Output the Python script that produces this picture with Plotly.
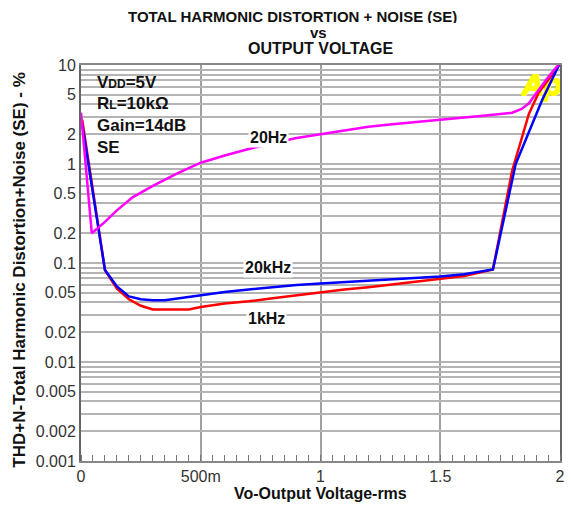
import plotly.graph_objects as go

# ---------------- data ----------------
x_20hz = [0.0, 0.045, 0.1, 0.15, 0.215, 0.3, 0.4, 0.5, 0.6, 0.7, 0.8, 0.9, 1.0,
          1.1, 1.2, 1.3, 1.4, 1.5, 1.6, 1.7, 1.8, 1.84, 1.87, 1.9, 1.95, 2.0]
y_20hz = [3.3, 0.2, 0.26, 0.34, 0.46, 0.6, 0.8, 1.03, 1.22, 1.42, 1.62, 1.83, 2.0,
          2.2, 2.38, 2.52, 2.65, 2.8, 2.95, 3.1, 3.3, 3.6, 4.1, 5.2, 7.5, 10.5]

x_1khz = [0.005, 0.1, 0.15, 0.2, 0.25, 0.3, 0.45, 0.5, 0.6, 0.7, 0.8, 0.9, 1.0,
          1.1, 1.2, 1.3, 1.4, 1.5, 1.6, 1.72, 1.8, 1.87, 1.91, 1.99, 2.0]
y_1khz = [2.8, 0.085, 0.055, 0.043, 0.037, 0.034, 0.034, 0.036, 0.039, 0.041, 0.044, 0.047, 0.051,
          0.054, 0.057, 0.061, 0.065, 0.069, 0.074, 0.086, 0.85, 3.2, 5.2, 9.5, 10.5]

x_20khz = [0.005, 0.1, 0.15, 0.2, 0.25, 0.3, 0.35, 0.5, 0.6, 0.7, 0.8, 0.9, 1.0,
           1.1, 1.2, 1.3, 1.4, 1.5, 1.6, 1.72, 1.815, 1.925, 2.0]
y_20khz = [2.5, 0.085, 0.058, 0.046, 0.043, 0.042, 0.042, 0.047, 0.051, 0.054, 0.057, 0.060, 0.062,
           0.064, 0.066, 0.068, 0.070, 0.073, 0.077, 0.086, 1.0, 4.4, 10.5]

x_tickvals = [0, 0.5, 1, 1.5, 2]
x_ticktext = ["0", "500m", "1", "1.5", "2"]
y_labeled = [10, 5, 2, 1, 0.5, 0.2, 0.1, 0.05, 0.02, 0.01, 0.005, 0.002, 0.001]
y_labels = ["10", "5", "2", "1", "0.5", "0.2", "0.1", "0.05", "0.02", "0.01", "0.005", "0.002", "0.001"]

# ---------------- layout geometry ----------------
W, H = 573, 515
L, R, T, B = 81, 565, 65, 461
PW, PH = R - L, B - T


def px(xp):
    return (xp - L) / PW


def py(yp):
    return (B - yp) / PH


FONT = "Liberation Sans, Arial, sans-serif"

# grid at every 1..9 multiple per decade, labels only at labeled ones
grid_vals = []
grid_text = []
for e in [0.001, 0.01, 0.1, 1]:
    for m in range(1, 10):
        v = round(m * e, 6)
        grid_vals.append(v)
        grid_text.append(y_labels[y_labeled.index(v)] if v in y_labeled else "")
grid_vals.append(10)
grid_text.append("10")

fig = go.Figure()

# Ap logo (decoration, drawn beneath curves)
fig.add_trace(go.Scatter(x=[1.925], y=[5.9], mode="text", text=["<b><i>Ap</i></b>"],
                         textfont=dict(family=FONT, size=30, color="#ffff00",
                                       weight="bold", style="italic",
                                       shadow="1px 0 0 #ffff00, -1px 0 0 #ffff00, 0 1px 0 #ffff00, 0 -1px 0 #ffff00"),
                         hoverinfo="skip", showlegend=False, cliponaxis=False))

fig.add_trace(go.Scatter(x=x_1khz, y=y_1khz, mode="lines", name="1kHz",
                         line=dict(color="#ff0000", width=2.5)))
fig.add_trace(go.Scatter(x=x_20khz, y=y_20khz, mode="lines", name="20kHz",
                         line=dict(color="#0000ff", width=2.5)))
fig.add_trace(go.Scatter(x=x_20hz, y=y_20hz, mode="lines", name="20Hz",
                         line=dict(color="#ff00ff", width=2.5)))

fig.update_layout(
    width=W, height=H, autosize=False,
    margin=dict(l=L, r=W - R, t=T, b=H - B, pad=0),
    paper_bgcolor="white", plot_bgcolor="white",
    showlegend=False,
    font=dict(family=FONT, color="#222"),
    xaxis=dict(range=[0, 2], tickvals=x_tickvals, ticktext=x_ticktext,
               showgrid=True, gridcolor="#a0a0a0", gridwidth=2,
               showline=True, linecolor="#888", linewidth=2, mirror=True,
               ticks="", zeroline=False,
               tickfont=dict(size=16, color="#333"),
               minor=dict(ticks="inside", ticklen=6, tickwidth=1, tickcolor="#777",
                          dtick=0.05, tick0=0, showgrid=False)),
    yaxis=dict(type="log", range=[-3, 1], tickvals=grid_vals, ticktext=grid_text,
               showgrid=True, gridcolor="#b4b4b4", gridwidth=2,
               showline=True, linecolor="#666", linewidth=2, mirror=True,
               ticks="", zeroline=False,
               tickfont=dict(size=16, color="#333")),
)

# white parameter box
fig.add_shape(type="rect", xref="paper", yref="paper",
              x0=px(92), x1=px(192), y0=py(156), y1=py(67),
              fillcolor="white", line=dict(width=0), layer="between")

params = ["V<span style='font-size:12px'>DD</span>=5V",
          "R<span style='font-size:12px'>L</span>=10kΩ",
          "Gain=14dB",
          "SE"]
for i, t in enumerate(params):
    fig.add_annotation(x=px(95), y=py(82 + 21.7 * i), xref="paper", yref="paper",
                       text="<b>" + t + "</b>", showarrow=False, xanchor="left", yanchor="middle",
                       font=dict(family=FONT, size=17, color="#111"))

# curve labels
for txt, xx, yy in [("20Hz", 270, 127), ("20kHz", 270, 267), ("1kHz", 268, 318)]:
    fig.add_annotation(x=px(xx), y=py(yy), xref="paper", yref="paper",
                       text="<b>" + txt + "</b>", showarrow=False,
                       bgcolor="white", borderpad=1,
                       font=dict(family=FONT, size=16, color="#111"))

# titles
for txt, xx, yy, fs in [("TOTAL HARMONIC DISTORTION + NOISE (SE)", 295, 16, 15),
                        ("vs", 321, 32, 15),
                        ("OUTPUT VOLTAGE", 323, 48, 16)]:
    fig.add_annotation(x=px(xx), y=py(yy), xref="paper", yref="paper",
                       text="<b>" + txt + "</b>", showarrow=False,
                       xanchor="center", yanchor="middle", height=14,
                       font=dict(family=FONT, size=fs, color="#111"))

fig.add_annotation(x=px(323), y=py(494), xref="paper", yref="paper",
                   text="<b>Vo-Output Voltage-rms</b>", showarrow=False,
                   xanchor="center", yanchor="middle",
                   font=dict(family=FONT, size=16, color="#111"))

fig.add_annotation(x=px(18), y=py(270), xref="paper", yref="paper",
                   text="<b>THD+N-Total Harmonic Distortion+Noise (SE) - %</b>", showarrow=False,
                   textangle=-90, xanchor="center", yanchor="middle",
                   font=dict(family=FONT, size=17, color="#111"))

fig.write_html("out.html", config={"displayModeBar": False},
               post_script="document.body.style.margin='0';")
